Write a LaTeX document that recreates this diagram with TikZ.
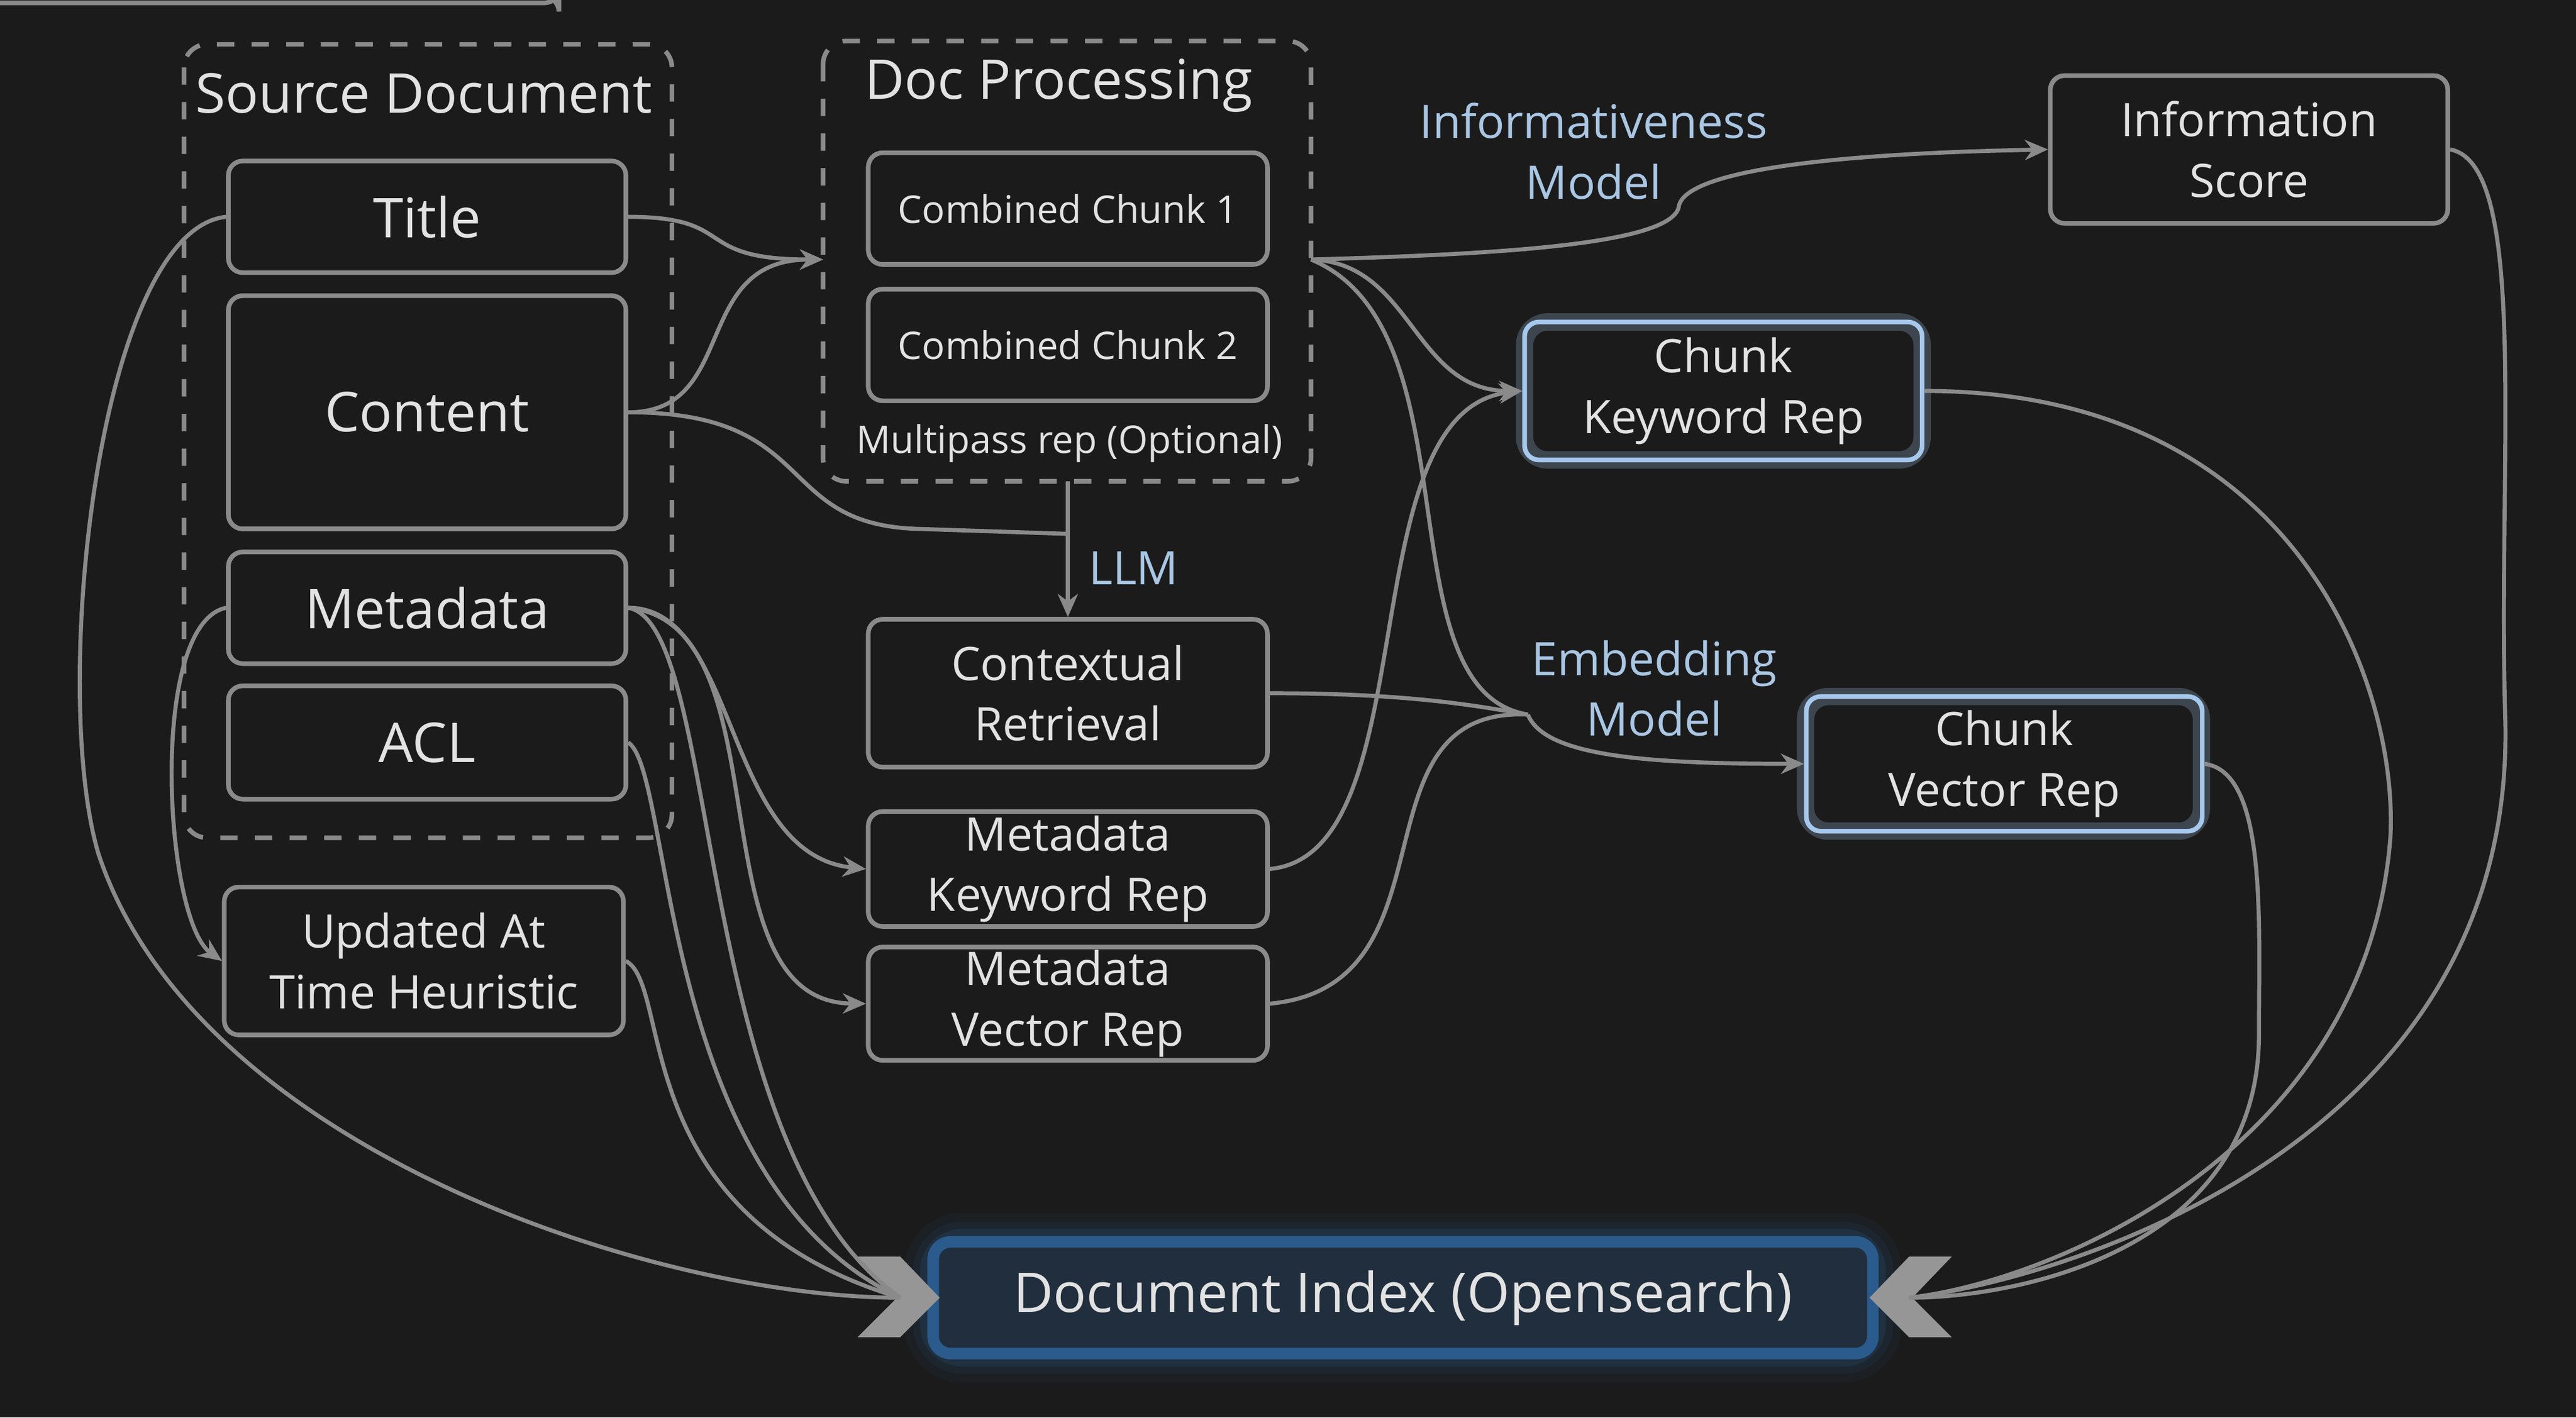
\documentclass[tikz,border=0pt]{standalone}
\usepackage{fontspec}
\setmainfont{Open Sans}
\usetikzlibrary{arrows.meta}
\definecolor{bg}{HTML}{1B1B1B}
\definecolor{ln}{HTML}{8A8A8A}
\definecolor{tx}{HTML}{E2E2E2}
\definecolor{lb}{HTML}{A9C6E3}
\definecolor{bb}{HTML}{A6C8EC}
\definecolor{ib}{HTML}{2B5A8C}
\begin{document}
\begin{tikzpicture}[x=0.1mm,y=-0.1mm,
  box/.style={draw=ln,line width=0.8pt,rounded corners=2.5pt,text=tx,align=center,inner sep=0pt},
  big/.style={font=\fontsize{9.5}{11}\selectfont},
  med/.style={font=\fontsize{8}{10.5}\selectfont},
  sml/.style={font=\fontsize{6.6}{8}\selectfont},
  grp/.style={draw=ln,dashed,line width=0.8pt,rounded corners=4pt},
  lbl/.style={text=lb,font=\fontsize{8}{10.5}\selectfont,align=center},
  con/.style={draw=ln,line width=0.7pt},
  arr/.style={con,-{Stealth[length=4pt,width=3.5pt]}},
  blu/.style={box,draw=bb}]
\fill[bg] (0,0) rectangle (1568,863);
\useasboundingbox (0,0) rectangle (1568,863);
% groups
\draw[grp] (112,27) rectangle (409,510);
\node[text=tx,big] (srct) at (258,57) {Source Document};
\draw[grp] (501,25) rectangle (798,293);
\node[text=tx,big,anchor=west] (dpt) at (514,52) {Doc Processing};
\node[text=tx,sml] (mp) at (651,270) {Multipass rep (Optional)};
\coordinate (dpr) at (798,158);
\coordinate (dpl) at (501,158);
\coordinate (dpb) at (650,293);
% source nodes
\node[box,big,minimum width=242\pgflinewidth,text width=0] at (0,0) {};
\node[box,big,minimum width=24.2mm,minimum height=6.8mm] (title) at (260,132) {Title};
\node[box,big,minimum width=24.2mm,minimum height=14.2mm] (content) at (260,251) {Content};
\node[box,big,minimum width=24.2mm,minimum height=6.8mm] (meta) at (260,370) {Metadata};
\node[box,big,minimum width=24.2mm,minimum height=6.9mm] (acl) at (260,452) {ACL};
\node[box,med,minimum width=24.3mm,minimum height=9mm] (upd) at (258,585) {Updated At\\Time Heuristic};
% processing
\node[box,sml,minimum width=24.3mm,minimum height=6.8mm] (c1) at (650,127) {Combined Chunk 1};
\node[box,sml,minimum width=24.3mm,minimum height=6.8mm] (c2) at (650,210) {Combined Chunk 2};
\node[lbl] (llm) at (690,346) {LLM};
\node[box,med,minimum width=24.3mm,minimum height=9mm] (ctx) at (650,422) {Contextual\\Retrieval};
\node[box,med,minimum width=24.3mm,minimum height=7mm] (mk) at (650,529) {Metadata\\Keyword Rep};
\node[box,med,minimum width=24.3mm,minimum height=6.9mm] (mv) at (650,611) {Metadata\\Vector Rep};
% right side
\node[lbl] (inf) at (970,92) {Informativeness\\Model};
\node[box,med,minimum width=24.2mm,minimum height=9mm] (isc) at (1369,91) {Information\\Score};
\draw[bb,opacity=0.25,line width=3pt,rounded corners=4pt] (928,196) rectangle (1170,280);
\node[blu,med,minimum width=24.2mm,minimum height=8.4mm] (ck) at (1049,238) {Chunk\\Keyword Rep};
\node[lbl] (emb) at (1007,419) {Embedding\\Model};
\coordinate (ej) at (930,435);
\draw[bb,opacity=0.25,line width=3pt,rounded corners=4pt] (1099,424) rectangle (1340,506);
\node[blu,med,minimum width=24.1mm,minimum height=8.2mm] (cv) at (1220,465) {Chunk\\Vector Rep};
% doc index
\foreach \w/\o in {10/0.08,7/0.12,4.5/0.2} \draw[ib,opacity=\o,line width=\w pt,rounded corners=5pt] (568,756) rectangle (1140,824);
\node[draw=ib,fill=ib!30!bg,line width=2pt,rounded corners=3pt,minimum width=57.2mm,minimum height=6.8mm,text=tx,big,inner sep=0pt] (di) at (854,790) {Document Index (Opensearch)};
\coordinate (dil) at (548,790);
\coordinate (dir) at (1162,790);
\fill[ln!90] (522,765) -- (548,765) -- (572,790) -- (548,814) -- (522,814) -- (546,790) -- cycle;
\fill[ln!90] (1188,765) -- (1162,765) -- (1138,790) -- (1162,814) -- (1188,814) -- (1164,790) -- cycle;
% connectors
\draw[arr] (title.east) .. controls (450,132) and (420,158) .. (dpl);
\draw[arr] (content.east) .. controls (450,251) and (420,158) .. (dpl);
\draw[con] (content.east) .. controls (500,251) and (470,320) .. (560,322) -- (650,325);
\draw[arr] (dpb) -- (ctx.north);
\draw[con] (title.west) .. controls (60,140) and (30,420) .. (60,520) .. controls (120,700) and (400,790) .. (dil);
\draw[arr] (meta.west) .. controls (90,380) and (100,560) .. (upd.west);
\draw[arr] (meta.east) .. controls (450,370) and (440,520) .. (mk.west);
\draw[arr] (meta.east) .. controls (480,380) and (420,610) .. (mv.west);
\draw[con] (meta.east) .. controls (440,380) and (420,700) .. (dil);
\draw[con] (acl.east) .. controls (410,470) and (400,720) .. (dil);
\draw[con] (upd.east) .. controls (410,600) and (380,740) .. (dil);
\draw[arr] (dpr) .. controls (900,155) and (1020,150) .. (1022,125) .. controls (1030,95) and (1200,92) .. (isc.west);
\draw[arr] (dpr) .. controls (860,160) and (860,238) .. (ck.west);
\draw[con] (dpr) .. controls (900,200) and (840,420) .. (ej);
\draw[con] (ctx.east) .. controls (860,422) and (900,430) .. (ej);
\draw[arr] (mk.east) .. controls (870,520) and (820,250) .. (ck.west);
\draw[con] (mv.east) .. controls (890,600) and (820,430) .. (ej);
\draw[arr] (ej) .. controls (940,460) and (1000,465) .. (cv.west);
\draw[con] (isc.east) .. controls (1540,100) and (1520,280) .. (1525,440) .. controls (1530,700) and (1250,780) .. (dir);
\draw[con] (ck.east) .. controls (1400,238) and (1460,420) .. (1455,510) .. controls (1440,700) and (1250,780) .. (dir);
\draw[con] (cv.east) .. controls (1380,470) and (1375,560) .. (1375,630) .. controls (1375,760) and (1230,790) .. (dir);
\end{tikzpicture}
\end{document}
